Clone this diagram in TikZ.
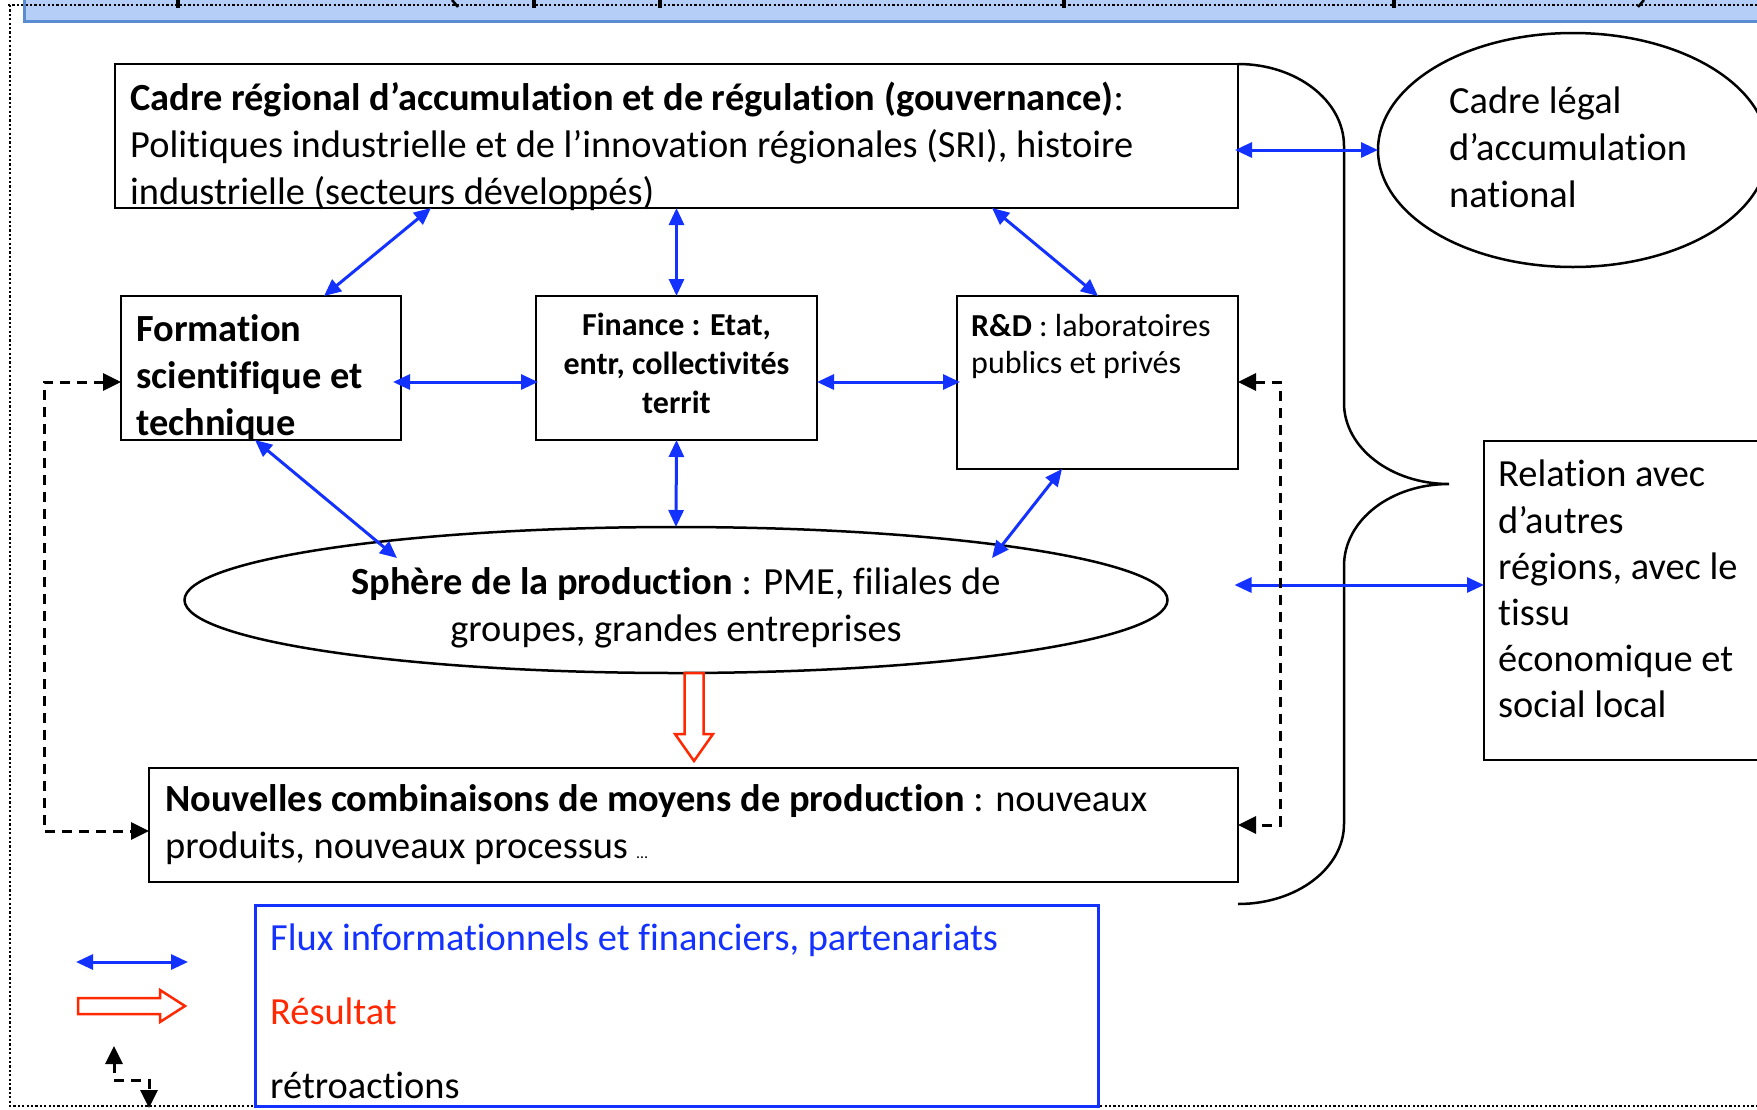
\documentclass[tikz,border=0pt]{standalone}
\usepackage{fontspec}
\setmainfont{Carlito}[Ligatures={NoCommon}]
\usetikzlibrary{arrows.meta,shapes.geometric,calc}
\definecolor{fblue}{RGB}{20,50,255}
\definecolor{fred}{RGB}{255,40,0}
\definecolor{bannerfill}{RGB}{180,206,248}
\definecolor{bannerline}{RGB}{90,140,210}
\newcommand\fbig{\fontsize{38.4}{47}\selectfont}
\newcommand\fmed{\fontsize{32}{39}\selectfont}
\newcommand\ftiny{\fontsize{16}{18}\selectfont}
\begin{document}
\begin{tikzpicture}[x=1pt,y=1pt,
  box/.style={draw=black, line width=2.5pt, rectangle, inner sep=0pt, outer sep=0pt},
  oval/.style={draw=black, line width=2.5pt, ellipse, inner sep=0pt, outer sep=0pt},
  txt/.style={anchor=base west, inner sep=0pt, font=\fbig},
  ctxt/.style={anchor=base, inner sep=0pt, font=\fbig},
  flow/.style={draw=fblue, line width=3pt, {Triangle[length=17pt,width=15pt]}-{Triangle[length=17pt,width=15pt]}},
  fb/.style={draw=black, line width=3pt, dash pattern=on 10pt off 7pt, {Triangle[length=18pt,width=17pt]}-{Triangle[length=18pt,width=17pt]}},
  res/.style={draw=fred, line width=2.5pt, fill=white, line join=miter},
  dotb/.style={line width=2.2pt, dash pattern=on 2.2pt off 2.2pt},
]
\useasboundingbox (0,0) rectangle (1757,-1109);
% banner
\fill[bannerfill] (24,-21) rectangle (1800,10);
\draw[bannerline, line width=3pt] (24,10) -- (24,-21) -- (1800,-21);
\draw[dotb] (8,-5) -- (1800,-5);
\draw[dotb] (10,-5) -- (10,-1106) -- (1800,-1106);
\foreach \x in {178,534,660,1064,1394} \draw[line width=3.5pt] (\x,0) -- (\x,-8);
\draw[line width=2.5pt] (452,0) -- (458,-7);
\draw[line width=2.5pt] (1644,0) -- (1638,-7);

% boxes
\node[box, minimum width=1123pt, minimum height=144pt] (cadre) at (676.5,-136) {};
\node[box, minimum width=280pt, minimum height=144pt] (form) at (261,-368) {};
\node[box, minimum width=281pt, minimum height=144pt] (fin) at (676.5,-368) {};
\node[box, minimum width=281pt, minimum height=173pt] (rd) at (1097.5,-382.5) {};
\node[oval, minimum width=983pt, minimum height=146pt] (sph) at (676,-600) {};
\node[box, minimum width=1089pt, minimum height=114pt] (nouv) at (693.5,-825) {};
\node[oval, minimum width=390pt, minimum height=234pt] (leg) at (1573,-150) {};
\node[box, minimum width=310pt, minimum height=319pt] (rel) at (1639,-600.5) {};
\node[draw=fblue, line width=3pt, rectangle, inner sep=0pt, minimum width=843pt, minimum height=201pt] (legend) at (676.5,-1005.5) {};

% brace
\draw[line width=2.5pt] (cadre.north east) .. controls (1296.5,-64) and (1344,-100.7) .. (1344,-146)
  -- (1344,-403) .. controls (1344,-447.7) and (1391,-484) .. (1449,-484)
  .. controls (1391,-484) and (1344,-520) .. (1344,-566)
  -- (1344,-824) .. controls (1344,-868) and (1297,-904) .. (1238,-904);

% texts
\node[txt] (t1) at (130,-110) {\textbf{Cadre régional d’accumulation et de régulation (gouvernance)}:};
\node[txt] (t2) at (130,-157) {Politiques industrielle et de l’innovation régionales (SRI), histoire};
\node[txt] (t3) at (130,-204) {industrielle (secteurs développés)};
\node[txt, font=\fbig\bfseries] (f1) at (136,-341) {Formation};
\node[txt, font=\fbig\bfseries] (f2) at (136,-388) {scientifique et};
\node[txt, font=\fbig\bfseries] (f3) at (136,-435) {technique};
\node[ctxt, font=\fmed\bfseries] (n1) at (676.5,-335) {Finance : Etat,};
\node[ctxt, font=\fmed\bfseries] (n2) at (676.5,-374) {entr, collectivités};
\node[ctxt, font=\fmed\bfseries] (n3) at (676.5,-413) {territ};
\node[txt, font=\fmed] (r1) at (971,-336) {\textbf{R\&D} : laboratoires};
\node[txt, font=\fmed] (r2) at (971,-373) {publics et privés};
\node[ctxt] (s1) at (676,-594) {\textbf{Sphère de la production} : PME, filiales de};
\node[ctxt] (s2) at (676,-641) {groupes, grandes entreprises};
\node[txt] (c1) at (165,-811) {\textbf{Nouvelles combinaisons de moyens de production} : nouveaux};
\node[txt] (c2) at (165,-858) {produits, nouveaux processus {\ftiny …}};
\node[txt] (l1) at (1449,-113) {Cadre légal};
\node[txt] (l2) at (1449,-160) {d’accumulation};
\node[txt] (l3) at (1449,-207) {national};
\node[txt] (e1) at (1498,-486) {Relation avec};
\node[txt] (e2) at (1498,-533) {d’autres};
\node[txt] (e3) at (1498,-579) {régions, avec le};
\node[txt] (e4) at (1498,-625) {tissu};
\node[txt] (e5) at (1498,-671) {économique et};
\node[txt] (e6) at (1498,-717) {social local};
\node[txt, text=fblue] (g1) at (270,-950) {Flux informationnels et financiers, partenariats};
\node[txt, text=fred] (g2) at (270,-1024) {Résultat};
\node[txt] (g3) at (270,-1098) {rétroactions};

% blue flows
\draw[flow] ($(cadre.south west)+(316,0)$) -- ($(form.north west)+(203,0)$);
\draw[flow] (cadre.south -| fin.north) -- (fin.north);
\draw[flow] ($(cadre.south west)+(877,0)$) -- ($(rd.north west)+(141,0)$);
\draw[flow] ($(form.south east)+(-8,58)$) -- ($(fin.south west)+(2,58)$);
\draw[flow] ($(fin.south east)+(0,58)$) -- ($(rd.north west)+(3,-86)$);
\draw[flow] ($(form.south west)+(134,0)$) -- ($(sph.center)+(-279,42)$);
\draw[flow] (fin.south) -- (sph.north);
\draw[flow] ($(rd.south west)+(105,0)$) -- ($(sph.center)+(316,42)$);
\draw[flow] ($(cadre.south east)+(-3,58)$) -- (leg.west);
\draw[flow] ($(sph.east)+(67,15)$) -- ($(rel.north west)+(0,-144)$);

% feedback
\draw[fb] ($(form.south west)+(0,58)$) -- (44,-382) -- (44,-831) -- ($(nouv.south west)+(0,51)$);
\draw[fb] ($(rd.north east)+(0,-86)$) -- (1280,-382) -- (1280,-825) -- ($(nouv.south east)+(0,57)$);

% result arrow
\coordinate (r0) at ($(sph.south)+(18,0)$);
\draw[res] ($(r0)+(-9.5,0)$) -- ++(0,-61) -- ++(-9.5,0) -- ++(19,-27) -- ++(19,27) -- ++(-9.5,0) -- ++(0,61) -- cycle;

% legend symbols
\coordinate (lb1) at (76,-962);
\coordinate (lb2) at (188,-962);
\draw[flow] (lb1) -- (lb2);
\coordinate (lr0) at (78,-998);
\draw[res] (lr0) -- ++(82,0) -- ++(0,8) -- ++(25,-16) -- ++(-25,-16) -- ++(0,8) -- ++(-82,0) -- cycle;
\coordinate (ld1) at (114,-1046);
\coordinate (ld2) at (149,-1108);
\draw[fb] (ld1) -- (114,-1080) -- (149,-1080) -- (ld2);
\end{tikzpicture}
\end{document}
